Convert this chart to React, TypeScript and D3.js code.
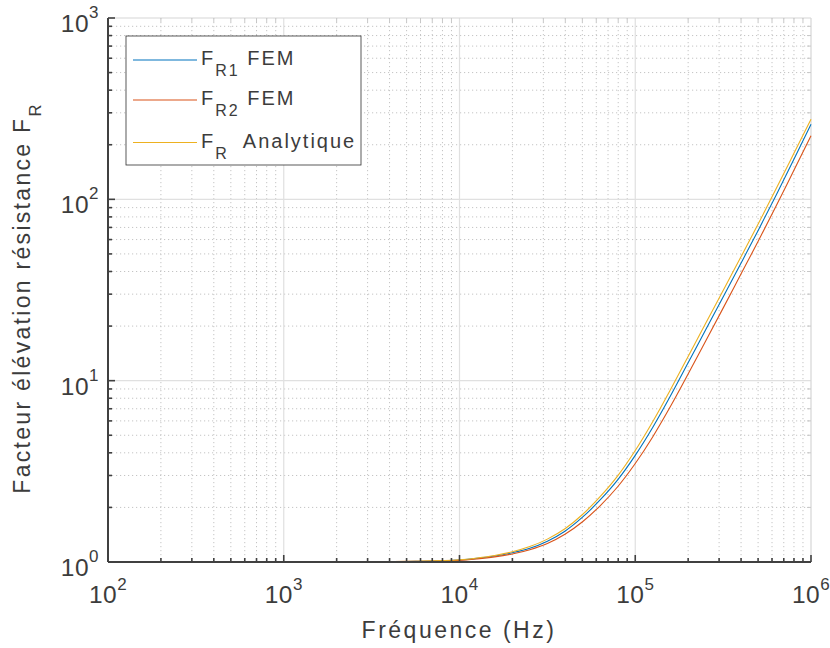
import React from "react";
import * as d3 from "d3";

const freq = [100, 1000, 3162, 5623, 10000, 12589, 15849, 19953, 25119, 31623, 39811, 50119, 63096, 79433, 100000, 125893, 158489, 199526, 251189, 316228, 398107, 501187, 630957, 794328, 1000000];
const fr1Fem = [1.0, 1.0005, 1.0023, 1.0085, 1.026, 1.047, 1.079, 1.125, 1.191, 1.303, 1.479, 1.766, 2.198, 2.838, 3.873, 5.534, 8.222, 12.5, 19.05, 28.97, 44.16, 67.61, 104.7, 164.4, 259.4];
const fr2Fem = [1.0, 1.0005, 1.002, 1.0076, 1.021, 1.04, 1.067, 1.107, 1.169, 1.265, 1.422, 1.667, 2.042, 2.6, 3.491, 4.909, 7.194, 10.84, 16.48, 25.12, 38.46, 58.88, 91.2, 142.9, 223.9];
const frAnalytique = [1.0, 1.0005, 1.0023, 1.0093, 1.028, 1.052, 1.086, 1.138, 1.216, 1.337, 1.524, 1.828, 2.291, 2.985, 4.121, 5.957, 8.913, 13.55, 20.65, 31.41, 47.86, 73.28, 113.5, 177.0, 276.7];

const xTickExps = [2, 3, 4, 5, 6];
const yTickExps = [0, 1, 2, 3];

const seriesNames = [
  { main: "F", sub: "R1", rest: " FEM" },
  { main: "F", sub: "R2", rest: " FEM" },
  { main: "F", sub: "R", rest: "  Analytique" },
];
const seriesColors = ["#0072BD", "#D95319", "#EDB120"];
const seriesValues = [fr1Fem, fr2Fem, frAnalytique];

const W = 830, H = 648;
const L = 108, R = 811, T = 18, B = 562;
const FONT = "'Liberation Sans', Arial, Helvetica, sans-serif";
const TXT = "#3c3c3c";

export default function App() {
  const x = d3.scaleLog().domain([1e2, 1e6]).range([L, R]);
  const y = d3.scaleLog().domain([1, 1e3]).range([B, T]);

  const xMinor: number[] = [];
  for (let e = 2; e < 6; e++) for (let k = 2; k <= 9; k++) xMinor.push(k * Math.pow(10, e));
  const yMinor: number[] = [];
  for (let e = 0; e < 3; e++) for (let k = 2; k <= 9; k++) yMinor.push(k * Math.pow(10, e));
  const xMajor = xTickExps.map((e) => Math.pow(10, e));
  const yMajor = yTickExps.map((e) => Math.pow(10, e));

  const line = d3
    .line<number>()
    .x((_, i) => x(freq[i]))
    .y((v) => y(v))
    .curve(d3.curveMonotoneX);

  const legendRows = [60, 100, 142.5];

  return (
    <svg width={W} height={H} style={{ position: "absolute", left: 0, top: 0, background: "#fff" }} fontFamily={FONT}>
      <rect x={0} y={0} width={W} height={H} fill="#fff" />
      {/* minor grid */}
      {xMinor.map((v) => (
        <line key={"xm" + v} x1={x(v)} x2={x(v)} y1={T} y2={B} stroke="#c4c4c4" strokeWidth={1} strokeDasharray="1.2,2.8" />
      ))}
      {yMinor.map((v) => (
        <line key={"ym" + v} x1={L} x2={R} y1={y(v)} y2={y(v)} stroke="#c4c4c4" strokeWidth={1} strokeDasharray="1.2,2.8" />
      ))}
      {/* major grid */}
      {xMajor.slice(1, -1).map((v) => (
        <line key={"xM" + v} x1={x(v)} x2={x(v)} y1={T} y2={B} stroke="#e0e0e0" strokeWidth={1.2} />
      ))}
      {yMajor.slice(1, -1).map((v) => (
        <line key={"yM" + v} x1={L} x2={R} y1={y(v)} y2={y(v)} stroke="#e0e0e0" strokeWidth={1.2} />
      ))}
      {/* top & right box */}
      <line x1={L} x2={R} y1={T} y2={T} stroke="#d6d6d6" strokeWidth={1.2} />
      <line x1={R} x2={R} y1={T} y2={B} stroke="#d6d6d6" strokeWidth={1.2} />
      {xMinor.map((v) => (
        <line key={"xtt" + v} x1={x(v)} x2={x(v)} y1={T} y2={T + 4} stroke="#c8c8c8" strokeWidth={1} />
      ))}
      {yMinor.map((v) => (
        <line key={"yrt" + v} x1={R} x2={R - 4} y1={y(v)} y2={y(v)} stroke="#c8c8c8" strokeWidth={1} />
      ))}
      {/* curves */}
      {seriesValues.map((vals, i) => (
        <path key={"s" + i} d={line(vals) || ""} fill="none" stroke={seriesColors[i]} strokeWidth={1.1} />
      ))}
      {/* bottom & left axis */}
      <line x1={L} x2={R} y1={B} y2={B} stroke="#404040" strokeWidth={2} />
      <line x1={L} x2={L} y1={T} y2={B} stroke="#404040" strokeWidth={2} />
      {xMinor.map((v) => (
        <line key={"xt" + v} x1={x(v)} x2={x(v)} y1={B} y2={B - 4} stroke="#404040" strokeWidth={1.6} />
      ))}
      {xMajor.map((v) => (
        <line key={"xT" + v} x1={x(v)} x2={x(v)} y1={B} y2={B - 7} stroke="#404040" strokeWidth={1.6} />
      ))}
      {yMinor.map((v) => (
        <line key={"yt" + v} x1={L} x2={L + 4} y1={y(v)} y2={y(v)} stroke="#404040" strokeWidth={1.6} />
      ))}
      {yMajor.map((v) => (
        <line key={"yT" + v} x1={L} x2={L + 7} y1={y(v)} y2={y(v)} stroke="#404040" strokeWidth={1.6} />
      ))}
      {/* tick labels */}
      {xTickExps.map((e) => (
        <text key={"xl" + e} x={x(Math.pow(10, e))} y={603} textAnchor="middle" fill={TXT} fontSize={24.5} letterSpacing={0.5}>
          10
          <tspan dy={-13.5} fontSize={17}>{e}</tspan>
        </text>
      ))}
      {yTickExps.map((e) => (
        <text key={"yl" + e} x={99} y={y(Math.pow(10, e)) + 14} textAnchor="end" fill={TXT} fontSize={24.5} letterSpacing={0.5}>
          10
          <tspan dy={-14} fontSize={17}>{e}</tspan>
        </text>
      ))}
      {/* axis labels */}
      <text x={459} y={637.5} textAnchor="middle" fill={TXT} fontSize={23} letterSpacing={2.5}>
        Fréquence (Hz)
      </text>
      <text transform="translate(29.5,298) rotate(-90)" textAnchor="middle" fill={TXT} fontSize={23} letterSpacing={2.3} style={{ whiteSpace: "pre" }}>
        Facteur élévation résistance F
        <tspan dy={11} fontSize={16.5}>R</tspan>
      </text>
      {/* legend */}
      <rect x={126} y={36} width={235} height={129} fill="#fff" stroke="#303030" strokeWidth={0.8} />
      {seriesNames.map((s, i) => (
        <g key={"lg" + i}>
          <line x1={133} x2={197} y1={legendRows[i]} y2={legendRows[i]} stroke={seriesColors[i]} strokeWidth={1.1} />
          <text x={201} y={legendRows[i] + 5} fill={TXT} fontSize={20} letterSpacing={2} style={{ whiteSpace: "pre" }}>
            {s.main}
            <tspan dy={11} fontSize={16}>{s.sub}</tspan>
            <tspan dy={-11} fontSize={20}>{s.rest}</tspan>
          </text>
        </g>
      ))}
    </svg>
  );
}
